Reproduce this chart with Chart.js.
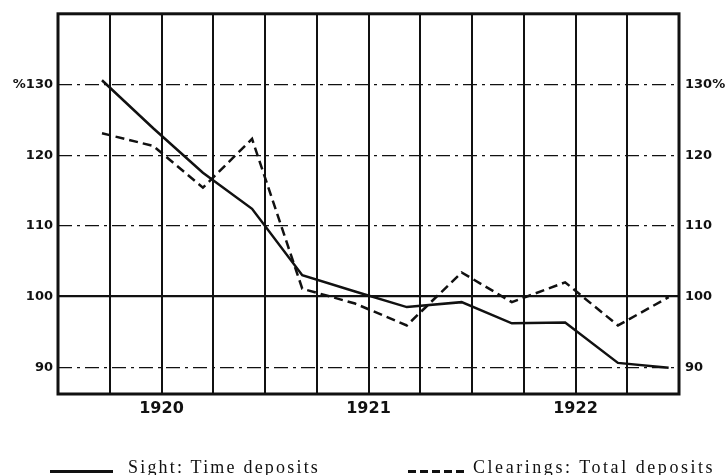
<!DOCTYPE html>
<html>
<head>
<meta charset="utf-8">
<script src="https://cdn.jsdelivr.net/npm/chart.js@4.4.1/dist/chart.umd.min.js"></script>
<style>
  body { margin: 0; background: #fff; }
  #wrap { position: relative; width: 725px; height: 475px; overflow: hidden; }
  #legend span { position: absolute; }
  .txt { font-family: "Liberation Serif", serif; font-size: 18px; line-height: 18px; letter-spacing: 2.2px; color: #111; white-space: nowrap; }
  .solid { height: 2.5px; background: #111; }
  .dashed { height: 2.5px; background: repeating-linear-gradient(90deg, #111 0 8px, transparent 8px 12px); }
</style>
</head>
<body>
<div id="wrap">
  <canvas id="myChart" width="725" height="475"></canvas>
  <div id="legend">
    <span class="solid" style="left:50px; top:470px; width:63px;"></span>
    <span class="txt" style="left:128px; top:458px;">Sight: Time deposits</span>
    <span class="dashed" style="left:408px; top:470px; width:60px;"></span>
    <span class="txt" style="left:473px; top:458px; letter-spacing:2.55px;">Clearings: Total deposits</span>
  </div>
</div>
<script>
// quarter positions on the time axis (gridline = start of a quarter, 1920 Q1 = 0)
const periods = [0.85, 1.84, 2.8, 3.75, 4.72, 5.74, 6.74, 7.8, 8.77, 9.8, 10.82, 11.8];

// Sight : Time deposits (%)
const sightTime = [130.6, 123.8, 117.5, 112.4, 103.0, 100.7, 98.5, 99.2, 96.2, 96.3, 90.6, 89.9];
// Clearings : Total deposits (%)
const clearingsTotal = [123.1, 121.3, 115.4, 122.3, 101.1, 99.0, 95.9, 103.4, 99.2, 102.0, 95.9, 99.9];

const yTicks = [90, 100, 110, 120, 130];
const leftTickLabels = ['90', '100', '110', '120', '%130'];
const rightTickLabels = ['90', '100', '110', '120', '130%'];

const yearLabels = ['1920', '1921', '1922'];
const yearTickPos = [2, 6, 10];
const quarterLines = [0, 1, 2, 3, 4, 5, 6, 7, 8, 9, 10, 11, 12];

const ink = '#111';

// thick frame round the plot
const framePlugin = {
  id: 'frame',
  beforeDatasetsDraw(chart) {
    const { ctx, chartArea: a } = chart;
    ctx.save();
    ctx.lineWidth = 3;
    ctx.strokeStyle = ink;
    ctx.strokeRect(a.left, a.top, a.right - a.left, a.bottom - a.top);
    ctx.restore();
  }
};

const ctx = document.getElementById('myChart');

new Chart(ctx, {
  type: 'line',
  data: {
    datasets: [
      {
        label: 'Sight: Time deposits',
        data: periods.map((p, i) => ({ x: p, y: sightTime[i] })),
        borderColor: ink,
        borderWidth: 2.5,
        pointRadius: 0,
        tension: 0
      },
      {
        label: 'Clearings: Total deposits',
        data: periods.map((p, i) => ({ x: p, y: clearingsTotal[i] })),
        borderColor: ink,
        borderWidth: 2.5,
        borderDash: [9, 5],
        pointRadius: 0,
        tension: 0
      }
    ]
  },
  options: {
    responsive: false,
    animation: false,
    layout: { padding: { top: 12, bottom: 51, left: 0, right: 0 } },
    plugins: {
      legend: { display: false },
      tooltip: { enabled: false }
    },
    scales: {
      x: {
        type: 'linear',
        min: 0,
        max: 12,
        afterBuildTicks: axis => { axis.ticks = quarterLines.map(v => ({ value: v })); },
        afterFit: axis => { axis.height = 30; },
        grid: { color: ink, lineWidth: 2, drawTicks: false },
        border: { display: false },
        ticks: {
          autoSkip: false,
          maxRotation: 0,
          padding: 5,
          color: ink,
          font: { family: 'DejaVu Sans', size: 16, weight: 'bold' },
          callback: v => {
            const i = yearTickPos.indexOf(v);
            return i >= 0 ? yearLabels[i] : '';
          }
        }
      },
      y: {
        position: 'left',
        min: 86.2,
        max: 140,
        afterBuildTicks: axis => { axis.ticks = yTicks.map(v => ({ value: v })); },
        afterFit: axis => { axis.width = 58; },
        grid: {
          color: ink,
          drawTicks: false,
          lineWidth: c => (c.tick && c.tick.value === 100 ? 2.2 : 1.2)
        },
        border: {
          display: false,
          dash: c => (c.tick && c.tick.value === 100 ? [] : [14, 5, 3, 5])
        },
        ticks: {
          padding: 5,
          color: ink,
          font: { family: 'DejaVu Sans', size: 13, weight: 'bold' },
          callback: v => leftTickLabels[yTicks.indexOf(v)]
        }
      },
      y2: {
        position: 'right',
        min: 86.2,
        max: 140,
        afterBuildTicks: axis => { axis.ticks = yTicks.map(v => ({ value: v })); },
        afterFit: axis => { axis.width = 46; },
        grid: { display: false, drawTicks: false },
        border: { display: false },
        ticks: {
          padding: 6,
          color: ink,
          font: { family: 'DejaVu Sans', size: 13, weight: 'bold' },
          callback: v => rightTickLabels[yTicks.indexOf(v)]
        }
      }
    }
  },
  plugins: [framePlugin]
});
</script>
</body>
</html>
